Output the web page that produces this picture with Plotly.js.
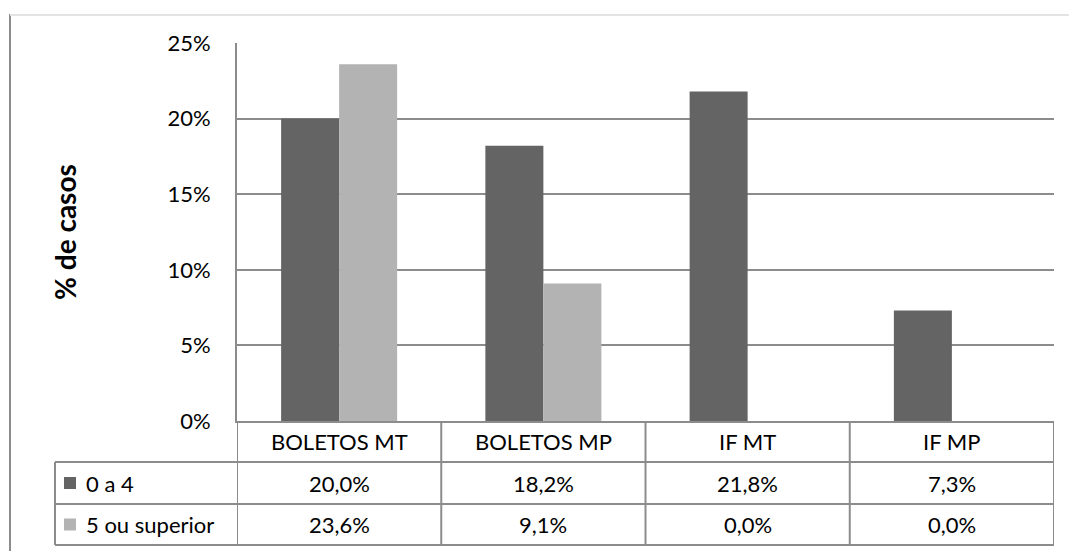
<!DOCTYPE html>
<html>
<head>
<meta charset="utf-8">
<script src="https://cdn.plot.ly/plotly-3.0.1.min.js"></script>
<style>
html,body{margin:0;padding:0;background:#fff;}
#chart{width:1069px;height:551px;}
</style>
</head>
<body>
<div id="chart"></div>
<script>
// ---- data ----
const categories = ["BOLETOS MT", "BOLETOS MP", "IF MT", "IF MP"];
const seriesNames = ["0 a 4", "5 ou superior"];
const values0a4 = [20.0, 18.2, 21.8, 7.3];
const values5ouSup = [23.6, 9.1, 0.0, 0.0];
const yTickVals = [0, 5, 10, 15, 20, 25];
const yTickText = ["0%", "5%", "10%", "15%", "20%", "25%"];
const yAxisTitle = "% de casos";

// ---- style ----
const colors = ["#646464", "#b3b3b3"];
const FONT = "Lato, 'Open Sans', sans-serif";
const FS = 22;
const lineCol = "#8c8c8c";

const W = 1069, H = 551;
const L = 237, R = 1054, T = 43, B = 421;
const pw = R - L, ph = B - T;
const px = v => (v - L) / pw;     // pixel x -> paper
const py = v => (B - v) / ph;     // pixel y -> paper

const rowTops = [421, 462, 504, 545];
const fmt = v => v.toFixed(1).replace('.', ',') + '%';

const traces = [
  {type: 'bar', x: categories, y: values0a4, name: seriesNames[0],
   marker: {color: colors[0]}, hoverinfo: 'skip'},
  {type: 'bar', x: categories, y: values5ouSup, name: seriesNames[1],
   marker: {color: colors[1]}, hoverinfo: 'skip'}
];

const shapes = [];
const annotations = [];
const ln = (xref, x0, x1, yref, y0, y1, color, w) =>
  shapes.push({type: 'line', xref: xref, yref: yref, x0: x0, x1: x1, y0: y0, y1: y1,
               line: {color: color || lineCol, width: w || 2}, layer: 'above'});

// outer frame pieces
ln('paper', px(10), px(10), 'paper', py(14), py(551), '#8c8c8c', 2);
ln('paper', px(10), px(1069), 'paper', py(15), py(15), '#e4e4e4', 2);

// table horizontal lines
[rowTops[1], rowTops[2], rowTops[3]].forEach(y => ln('paper', px(55), 1, 'paper', py(y), py(y)));
// table vertical lines at category boundaries
for (let i = 0; i <= categories.length; i++) {
  ln('x', i - 0.5, i - 0.5, 'paper', py(rowTops[0]), py(rowTops[3]));
}
// left edge of label column
ln('paper', px(55), px(55), 'paper', py(rowTops[1]), py(rowTops[3]));

// header row: category names
categories.forEach((c, i) => annotations.push({
  xref: 'x', yref: 'paper', x: i, y: py((rowTops[0] + rowTops[1]) / 2),
  text: c, showarrow: false, xanchor: 'center', yanchor: 'middle',
  font: {family: FONT, size: FS, color: '#000'}
}));
// value rows
[values0a4, values5ouSup].forEach((vals, r) => {
  const yc = py((rowTops[r + 1] + rowTops[r + 2]) / 2);
  vals.forEach((v, i) => annotations.push({
    xref: 'x', yref: 'paper', x: i, y: yc, text: fmt(v), showarrow: false,
    xanchor: 'center', yanchor: 'middle',
    font: {family: FONT, size: FS, color: '#000'}
  }));
  // legend key + series name
  const yTop = (rowTops[r + 1] + rowTops[r + 2]) / 2 - 6;
  shapes.push({type: 'rect', xref: 'paper', yref: 'paper',
    x0: px(64), x1: px(76), y0: py(yTop), y1: py(yTop + 12),
    fillcolor: colors[r], line: {width: 0}, layer: 'above'});
  annotations.push({xref: 'paper', yref: 'paper', x: px(84), y: yc,
    text: seriesNames[r], showarrow: false, xanchor: 'left', yanchor: 'middle',
    font: {family: FONT, size: FS, color: '#000'}});
});

// y axis title
annotations.push({xref: 'paper', yref: 'paper', x: px(65), y: 0.5, text: '<b>' + yAxisTitle + '</b>',
  textangle: -90, showarrow: false, xanchor: 'center', yanchor: 'middle',
  font: {family: FONT, size: 28, color: '#000'}});

const layout = {
  width: W, height: H,
  margin: {l: L, r: W - R, t: T, b: H - B, pad: 0},
  paper_bgcolor: '#fff', plot_bgcolor: '#fff',
  showlegend: false,
  barmode: 'group', bargap: 0.432, bargroupgap: 0,
  xaxis: {type: 'category', range: [-0.5, categories.length - 0.5], showticklabels: false,
          ticks: '', showgrid: false, zeroline: false, showline: true, linecolor: lineCol, linewidth: 2, fixedrange: true},
  yaxis: {range: [0, 25], tickmode: 'array', tickvals: yTickVals, ticktext: yTickText, ticks: '', ticklabelstandoff: 20,
          showgrid: true, gridcolor: lineCol, gridwidth: 2, zeroline: false,
          showline: true, linecolor: lineCol, linewidth: 2,
          tickfont: {family: FONT, size: FS, color: '#000'}, fixedrange: true},
  shapes: shapes,
  annotations: annotations
};

Plotly.newPlot('chart', traces, layout, {staticPlot: true, displayModeBar: false});
</script>
</body>
</html>
